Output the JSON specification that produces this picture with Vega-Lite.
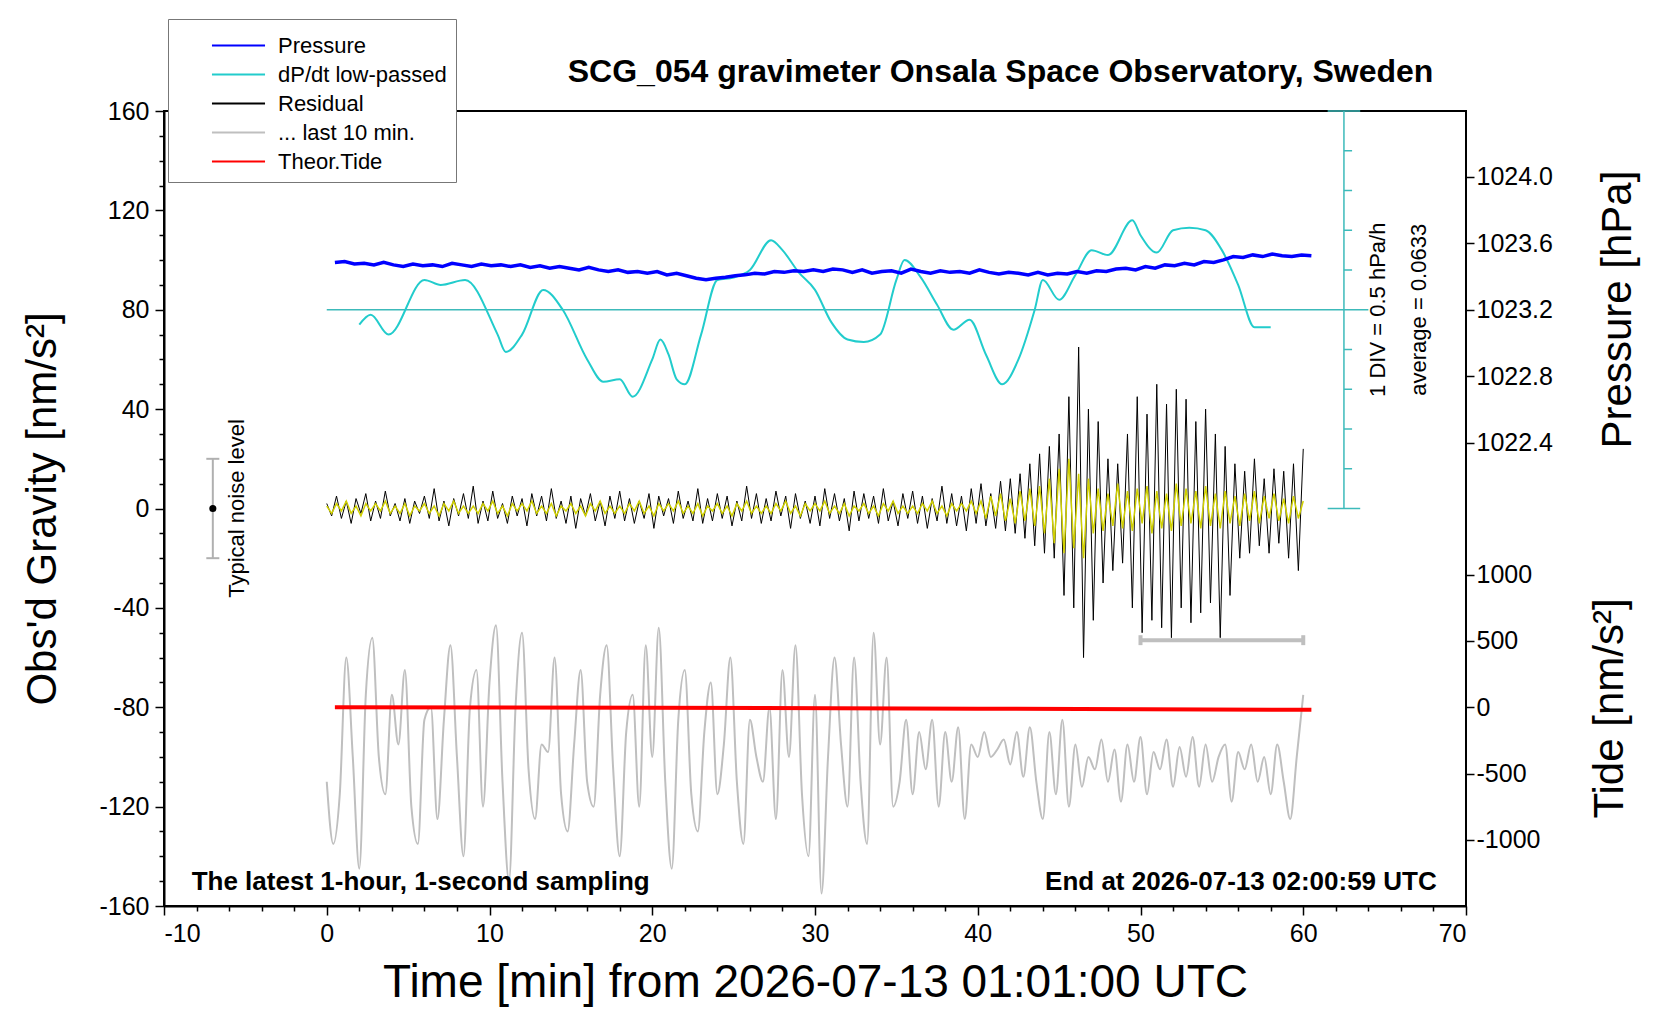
{
  "$schema": "https://vega.github.io/schema/vega-lite/v6.json",
  "width": 1302,
  "height": 795,
  "autosize": "none",
  "padding": {"left": 164, "top": 111, "right": 194, "bottom": 114},
  "background": "white",
  "config": {
    "font": "Liberation Sans",
    "locale": {"number": {"decimal": ".", "thousands": "", "grouping": [3], "currency": ["", ""], "minus": "-"}},
    "view": {"stroke": "black", "strokeWidth": 2},
    "axis": {"domainColor": "black", "domainWidth": 2, "tickColor": "black", "tickWidth": 1.5, "labelFontSize": 25, "labelColor": "black", "grid": false, "titleFontWeight": "normal", "titleColor": "black", "labelFont": "Liberation Sans", "titleFont": "Liberation Sans"},
    "legend": {"orient": "none", "legendX": 4, "legendY": -92, "title": null, "fillColor": "white", "strokeColor": "#777777", "padding": 9, "labelFontSize": 22, "labelFont": "Liberation Sans", "labelColor": "black", "labelLimit": 400, "symbolType": "M-1.6,0H1.6", "symbolSize": 1100, "symbolStrokeWidth": 1.8, "rowPadding": 0, "labelOffset": 22, "symbolOffset": 44}
  },
  "datasets": {
    "res": [
      {"t":0,"r":2,"f":1},{"t":0.3,"r":-3,"f":-2},{"t":0.6,"r":5,"f":2},{"t":0.9,"r":-4,"f":-1},{"t":1.2,"r":3,"f":3},{"t":1.5,"r":-6,"f":-2},{"t":1.8,"r":4,"f":1},{"t":2.1,"r":-2,"f":-3},{"t":2.4,"r":6,"f":2},{"t":2.7,"r":-5,"f":-1},
      {"t":3,"r":3,"f":2},{"t":3.3,"r":-4,"f":-1},{"t":3.6,"r":7,"f":3},{"t":3.9,"r":-3,"f":-2},{"t":4.2,"r":2,"f":1},{"t":4.5,"r":-5,"f":-2},{"t":4.8,"r":4,"f":2},{"t":5.1,"r":-6,"f":-3},{"t":5.4,"r":3,"f":1},{"t":5.7,"r":-2,"f":-1},
      {"t":6,"r":5,"f":2},{"t":6.3,"r":-4,"f":-2},{"t":6.6,"r":8,"f":1},{"t":6.9,"r":-5,"f":-3},{"t":7.2,"r":3,"f":2},{"t":7.5,"r":-7,"f":-1},{"t":7.8,"r":4,"f":3},{"t":8.1,"r":-3,"f":-2},{"t":8.4,"r":6,"f":1},{"t":8.7,"r":-4,"f":-2},
      {"t":9,"r":9,"f":1},{"t":9.3,"r":-6,"f":-2},{"t":9.6,"r":3,"f":2},{"t":9.9,"r":-5,"f":-1},{"t":10.2,"r":7,"f":3},{"t":10.5,"r":-4,"f":-2},{"t":10.8,"r":2,"f":1},{"t":11.1,"r":-6,"f":-3},{"t":11.4,"r":5,"f":2},{"t":11.7,"r":-3,"f":-1},
      {"t":12,"r":4,"f":2},{"t":12.3,"r":-7,"f":-1},{"t":12.6,"r":6,"f":3},{"t":12.9,"r":-3,"f":-2},{"t":13.2,"r":5,"f":1},{"t":13.5,"r":-5,"f":-2},{"t":13.8,"r":8,"f":2},{"t":14.1,"r":-4,"f":-3},{"t":14.4,"r":3,"f":1},{"t":14.7,"r":-6,"f":-1},
      {"t":15,"r":5,"f":2},{"t":15.3,"r":-8,"f":-2},{"t":15.6,"r":4,"f":1},{"t":15.9,"r":-3,"f":-3},{"t":16.2,"r":6,"f":2},{"t":16.5,"r":-5,"f":-1},{"t":16.8,"r":3,"f":3},{"t":17.1,"r":-7,"f":-2},{"t":17.4,"r":5,"f":1},{"t":17.7,"r":-4,"f":-2},
      {"t":18,"r":7,"f":1},{"t":18.3,"r":-5,"f":-2},{"t":18.6,"r":4,"f":2},{"t":18.9,"r":-6,"f":-1},{"t":19.2,"r":3,"f":3},{"t":19.5,"r":-4,"f":-2},{"t":19.8,"r":6,"f":1},{"t":20.1,"r":-8,"f":-3},{"t":20.4,"r":5,"f":2},{"t":20.7,"r":-3,"f":-1},
      {"t":21,"r":4,"f":2},{"t":21.3,"r":-6,"f":-1},{"t":21.6,"r":7,"f":3},{"t":21.9,"r":-4,"f":-2},{"t":22.2,"r":3,"f":1},{"t":22.5,"r":-5,"f":-2},{"t":22.8,"r":8,"f":2},{"t":23.1,"r":-6,"f":-3},{"t":23.4,"r":4,"f":1},{"t":23.7,"r":-5,"f":-1},
      {"t":24,"r":6,"f":2},{"t":24.3,"r":-4,"f":-2},{"t":24.6,"r":5,"f":1},{"t":24.9,"r":-7,"f":-3},{"t":25.2,"r":3,"f":2},{"t":25.5,"r":-5,"f":-1},{"t":25.8,"r":9,"f":3},{"t":26.1,"r":-4,"f":-2},{"t":26.4,"r":6,"f":1},{"t":26.7,"r":-6,"f":-2},
      {"t":27,"r":4,"f":1},{"t":27.3,"r":-5,"f":-2},{"t":27.6,"r":7,"f":2},{"t":27.9,"r":-3,"f":-1},{"t":28.2,"r":5,"f":3},{"t":28.5,"r":-8,"f":-2},{"t":28.8,"r":6,"f":1},{"t":29.1,"r":-4,"f":-3},{"t":29.4,"r":3,"f":2},{"t":29.7,"r":-6,"f":-1},
      {"t":30,"r":5,"f":2},{"t":30.3,"r":-7,"f":-1},{"t":30.6,"r":8,"f":3},{"t":30.9,"r":-4,"f":-2},{"t":31.2,"r":6,"f":1},{"t":31.5,"r":-5,"f":-2},{"t":31.8,"r":4,"f":2},{"t":32.1,"r":-9,"f":-3},{"t":32.4,"r":7,"f":1},{"t":32.7,"r":-5,"f":-1},
      {"t":33,"r":6,"f":2},{"t":33.3,"r":-4,"f":-2},{"t":33.6,"r":5,"f":1},{"t":33.9,"r":-6,"f":-3},{"t":34.2,"r":8,"f":2},{"t":34.5,"r":-5,"f":-1},{"t":34.8,"r":3,"f":3},{"t":35.1,"r":-7,"f":-2},{"t":35.4,"r":6,"f":1},{"t":35.7,"r":-4,"f":-2},
      {"t":36,"r":7,"f":1},{"t":36.3,"r":-6,"f":-2},{"t":36.6,"r":5,"f":2},{"t":36.9,"r":-8,"f":-1},{"t":37.2,"r":4,"f":3},{"t":37.5,"r":-5,"f":-2},{"t":37.8,"r":9,"f":1},{"t":38.1,"r":-6,"f":-3},{"t":38.4,"r":6,"f":2},{"t":38.7,"r":-7,"f":-1},
      {"t":39,"r":5,"f":2},{"t":39.3,"r":-9,"f":-1},{"t":39.6,"r":8,"f":3},{"t":39.9,"r":-6,"f":-2},{"t":40.2,"r":10,"f":3},{"t":40.5,"r":-7,"f":-4},{"t":40.8,"r":6,"f":5},{"t":41.1,"r":-8,"f":-3},{"t":41.4,"r":11,"f":6},{"t":41.7,"r":-9,"f":-5},
      {"t":42,"r":12,"f":4},{"t":42.3,"r":-10,"f":-6},{"t":42.6,"r":14,"f":7},{"t":42.9,"r":-12,"f":-5},{"t":43.2,"r":18,"f":8},{"t":43.5,"r":-15,"f":-7},{"t":43.8,"r":22,"f":9},{"t":44.1,"r":-18,"f":-10},{"t":44.4,"r":25,"f":12},{"t":44.7,"r":-20,"f":-14},
      {"t":45,"r":30,"f":16},{"t":45.3,"r":-35,"f":-18},{"t":45.6,"r":45,"f":20},{"t":45.9,"r":-40,"f":-16},{"t":46.2,"r":65,"f":14},{"t":46.5,"r":-60,"f":-20},{"t":46.8,"r":40,"f":12},{"t":47.1,"r":-45,"f":-10},{"t":47.4,"r":35,"f":8},{"t":47.7,"r":-30,"f":-9},
      {"t":48,"r":20,"f":6},{"t":48.3,"r":-25,"f":-7},{"t":48.6,"r":18,"f":10},{"t":48.9,"r":-22,"f":-8},{"t":49.2,"r":30,"f":7},{"t":49.5,"r":-40,"f":-9},{"t":49.8,"r":45,"f":8},{"t":50.1,"r":-50,"f":-6},{"t":50.4,"r":38,"f":9},{"t":50.7,"r":-45,"f":-10},
      {"t":51,"r":50,"f":7},{"t":51.3,"r":-48,"f":-8},{"t":51.6,"r":42,"f":6},{"t":51.9,"r":-52,"f":-9},{"t":52.2,"r":48,"f":10},{"t":52.5,"r":-40,"f":-7},{"t":52.8,"r":44,"f":8},{"t":53.1,"r":-46,"f":-6},{"t":53.4,"r":35,"f":7},{"t":53.7,"r":-42,"f":-8},
      {"t":54,"r":40,"f":9},{"t":54.3,"r":-38,"f":-7},{"t":54.6,"r":30,"f":6},{"t":54.9,"r":-52,"f":-8},{"t":55.2,"r":25,"f":7},{"t":55.5,"r":-35,"f":-6},{"t":55.8,"r":18,"f":5},{"t":56.1,"r":-20,"f":-7},{"t":56.4,"r":15,"f":6},{"t":56.7,"r":-18,"f":-5},
      {"t":57,"r":20,"f":7},{"t":57.3,"r":-15,"f":-6},{"t":57.6,"r":12,"f":5},{"t":57.9,"r":-18,"f":-4},{"t":58.2,"r":16,"f":6},{"t":58.5,"r":-14,"f":-5},{"t":58.8,"r":15,"f":4},{"t":59.1,"r":-20,"f":-6},{"t":59.4,"r":18,"f":5},{"t":59.7,"r":-25,"f":-4},
      {"t":60,"r":24,"f":3}
    ],
    "last10": [
      {"t":0,"g":-110},{"t":0.4,"g":-135},{"t":0.8,"g":-115},{"t":1.2,"g":-60},{"t":1.6,"g":-100},{"t":2,"g":-145},{"t":2.4,"g":-75},{"t":2.8,"g":-52},{"t":3.2,"g":-100},{"t":3.6,"g":-115},
      {"t":4,"g":-75},{"t":4.4,"g":-95},{"t":4.8,"g":-65},{"t":5.2,"g":-120},{"t":5.6,"g":-135},{"t":6,"g":-85},{"t":6.4,"g":-80},{"t":6.8,"g":-125},{"t":7.2,"g":-85},{"t":7.6,"g":-55},
      {"t":8,"g":-100},{"t":8.4,"g":-140},{"t":8.8,"g":-80},{"t":9.2,"g":-65},{"t":9.6,"g":-120},{"t":10,"g":-70},{"t":10.4,"g":-47},{"t":10.8,"g":-110},{"t":11.2,"g":-150},{"t":11.6,"g":-80},
      {"t":12,"g":-50},{"t":12.4,"g":-105},{"t":12.8,"g":-125},{"t":13.2,"g":-95},{"t":13.6,"g":-98},{"t":14,"g":-60},{"t":14.4,"g":-115},{"t":14.8,"g":-130},{"t":15.2,"g":-95},{"t":15.6,"g":-65},
      {"t":16,"g":-110},{"t":16.4,"g":-120},{"t":16.8,"g":-75},{"t":17.2,"g":-55},{"t":17.6,"g":-105},{"t":18,"g":-140},{"t":18.4,"g":-90},{"t":18.8,"g":-75},{"t":19.2,"g":-120},{"t":19.6,"g":-55},
      {"t":20,"g":-100},{"t":20.4,"g":-48},{"t":20.8,"g":-110},{"t":21.2,"g":-145},{"t":21.6,"g":-85},{"t":22,"g":-65},{"t":22.4,"g":-115},{"t":22.8,"g":-130},{"t":23.2,"g":-90},{"t":23.6,"g":-70},
      {"t":24,"g":-115},{"t":24.4,"g":-95},{"t":24.8,"g":-60},{"t":25.2,"g":-110},{"t":25.6,"g":-135},{"t":26,"g":-85},{"t":26.4,"g":-100},{"t":26.8,"g":-110},{"t":27.2,"g":-80},{"t":27.6,"g":-125},
      {"t":28,"g":-65},{"t":28.4,"g":-100},{"t":28.8,"g":-55},{"t":29.2,"g":-115},{"t":29.6,"g":-140},{"t":30,"g":-75},{"t":30.4,"g":-155},{"t":30.8,"g":-100},{"t":31.2,"g":-60},{"t":31.6,"g":-95},
      {"t":32,"g":-120},{"t":32.4,"g":-60},{"t":32.8,"g":-110},{"t":33.2,"g":-135},{"t":33.6,"g":-50},{"t":34,"g":-95},{"t":34.4,"g":-60},{"t":34.8,"g":-120},{"t":35.2,"g":-110},{"t":35.6,"g":-85},
      {"t":36,"g":-115},{"t":36.4,"g":-90},{"t":36.8,"g":-105},{"t":37.2,"g":-85},{"t":37.6,"g":-120},{"t":38,"g":-90},{"t":38.4,"g":-110},{"t":38.8,"g":-88},{"t":39.2,"g":-125},{"t":39.6,"g":-95},
      {"t":40,"g":-100},{"t":40.4,"g":-90},{"t":40.8,"g":-100},{"t":41.2,"g":-97},{"t":41.6,"g":-93},{"t":42,"g":-103},{"t":42.4,"g":-90},{"t":42.8,"g":-108},{"t":43.2,"g":-88},{"t":43.6,"g":-110},
      {"t":44,"g":-125},{"t":44.4,"g":-90},{"t":44.8,"g":-115},{"t":45.2,"g":-85},{"t":45.6,"g":-120},{"t":46,"g":-95},{"t":46.4,"g":-112},{"t":46.8,"g":-100},{"t":47.2,"g":-105},{"t":47.6,"g":-93},
      {"t":48,"g":-110},{"t":48.4,"g":-97},{"t":48.8,"g":-118},{"t":49.2,"g":-95},{"t":49.6,"g":-110},{"t":50,"g":-92},{"t":50.4,"g":-115},{"t":50.8,"g":-98},{"t":51.2,"g":-105},{"t":51.6,"g":-93},
      {"t":52,"g":-112},{"t":52.4,"g":-96},{"t":52.8,"g":-108},{"t":53.2,"g":-92},{"t":53.6,"g":-112},{"t":54,"g":-95},{"t":54.4,"g":-110},{"t":54.8,"g":-100},{"t":55.2,"g":-95},{"t":55.6,"g":-118},
      {"t":56,"g":-98},{"t":56.4,"g":-105},{"t":56.8,"g":-95},{"t":57.2,"g":-110},{"t":57.6,"g":-100},{"t":58,"g":-115},{"t":58.4,"g":-95},{"t":58.8,"g":-110},{"t":59.2,"g":-125},{"t":59.6,"g":-100},
      {"t":60,"g":-75}
    ],
    "dpdt": [
      {"t":2,"g":74},{"t":2.7,"g":78},{"t":3.8,"g":70},{"t":6,"g":92},{"t":7,"g":90},{"t":8.5,"g":92},{"t":10.5,"g":70},{"t":11,"g":63},{"t":12,"g":70},{"t":13.3,"g":88},
      {"t":14.5,"g":80},{"t":16,"g":60},{"t":17,"g":51},{"t":18,"g":52},{"t":18.8,"g":45},{"t":20,"g":60},{"t":20.5,"g":68},{"t":21,"g":62},{"t":21.5,"g":52},{"t":22,"g":50},
      {"t":23,"g":70},{"t":24,"g":92},{"t":25,"g":93},{"t":26,"g":96},{"t":27.3,"g":108},{"t":28,"g":104},{"t":29,"g":95},{"t":30,"g":88},{"t":31,"g":75},{"t":32,"g":68},
      {"t":33,"g":67},{"t":34,"g":70},{"t":35,"g":92},{"t":35.5,"g":100},{"t":36.5,"g":93},{"t":37.5,"g":82},{"t":38.5,"g":72},{"t":39.5,"g":76},{"t":40.5,"g":62},{"t":41.5,"g":50},
      {"t":42.5,"g":60},{"t":43.5,"g":80},{"t":44,"g":92},{"t":45,"g":84},{"t":46,"g":94},{"t":47,"g":104},{"t":48,"g":102},{"t":49.5,"g":116},{"t":50,"g":110},{"t":51,"g":103},
      {"t":52,"g":112},{"t":53,"g":113},{"t":54,"g":112},{"t":55,"g":104},{"t":56,"g":90},{"t":57,"g":73},{"t":58,"g":73}
    ],
    "pressure": [
      {"t":0.5,"p":1023.485},{"t":1.1,"p":1023.49},{"t":1.7,"p":1023.475},{"t":2.3,"p":1023.48},{"t":2.9,"p":1023.47},{"t":3.5,"p":1023.485},{"t":4.1,"p":1023.47},{"t":4.7,"p":1023.46},{"t":5.3,"p":1023.475},{"t":5.9,"p":1023.465},
      {"t":6.5,"p":1023.47},{"t":7.1,"p":1023.46},{"t":7.7,"p":1023.48},{"t":8.3,"p":1023.47},{"t":8.9,"p":1023.46},{"t":9.5,"p":1023.475},{"t":10.1,"p":1023.465},{"t":10.7,"p":1023.47},{"t":11.3,"p":1023.46},{"t":11.9,"p":1023.47},
      {"t":12.5,"p":1023.455},{"t":13.1,"p":1023.465},{"t":13.7,"p":1023.45},{"t":14.3,"p":1023.46},{"t":14.9,"p":1023.45},{"t":15.5,"p":1023.44},{"t":16.1,"p":1023.455},{"t":16.7,"p":1023.44},{"t":17.3,"p":1023.43},{"t":17.9,"p":1023.44},
      {"t":18.5,"p":1023.425},{"t":19.1,"p":1023.43},{"t":19.7,"p":1023.42},{"t":20.3,"p":1023.43},{"t":20.9,"p":1023.41},{"t":21.5,"p":1023.42},{"t":22.1,"p":1023.405},{"t":22.7,"p":1023.39},{"t":23.3,"p":1023.38},{"t":23.9,"p":1023.39},
      {"t":24.5,"p":1023.395},{"t":25.1,"p":1023.405},{"t":25.7,"p":1023.41},{"t":26.3,"p":1023.42},{"t":26.9,"p":1023.415},{"t":27.5,"p":1023.43},{"t":28.1,"p":1023.425},{"t":28.7,"p":1023.435},{"t":29.3,"p":1023.43},{"t":29.9,"p":1023.44},
      {"t":30.5,"p":1023.43},{"t":31.1,"p":1023.445},{"t":31.7,"p":1023.44},{"t":32.3,"p":1023.425},{"t":32.9,"p":1023.44},{"t":33.5,"p":1023.42},{"t":34.1,"p":1023.43},{"t":34.7,"p":1023.435},{"t":35.3,"p":1023.42},{"t":35.9,"p":1023.445},
      {"t":36.5,"p":1023.43},{"t":37.1,"p":1023.42},{"t":37.7,"p":1023.435},{"t":38.3,"p":1023.425},{"t":38.9,"p":1023.43},{"t":39.5,"p":1023.42},{"t":40.1,"p":1023.44},{"t":40.7,"p":1023.425},{"t":41.3,"p":1023.415},{"t":41.9,"p":1023.425},
      {"t":42.5,"p":1023.42},{"t":43.1,"p":1023.41},{"t":43.7,"p":1023.425},{"t":44.3,"p":1023.41},{"t":44.9,"p":1023.42},{"t":45.5,"p":1023.415},{"t":46.1,"p":1023.43},{"t":46.7,"p":1023.42},{"t":47.3,"p":1023.435},{"t":47.9,"p":1023.43},
      {"t":48.5,"p":1023.445},{"t":49.1,"p":1023.45},{"t":49.7,"p":1023.44},{"t":50.3,"p":1023.46},{"t":50.9,"p":1023.45},{"t":51.5,"p":1023.47},{"t":52.1,"p":1023.465},{"t":52.7,"p":1023.48},{"t":53.3,"p":1023.47},{"t":53.9,"p":1023.49},
      {"t":54.5,"p":1023.485},{"t":55.1,"p":1023.5},{"t":55.7,"p":1023.52},{"t":56.3,"p":1023.515},{"t":56.9,"p":1023.53},{"t":57.5,"p":1023.52},{"t":58.1,"p":1023.535},{"t":58.7,"p":1023.525},{"t":59.3,"p":1023.52},{"t":59.9,"p":1023.53},
      {"t":60.5,"p":1023.525}
    ],
    "tide": [{"t":0.5,"v":0},{"t":20,"v":-4},{"t":40,"v":-11},{"t":60.5,"v":-19}],
    "cyanaxis": [
      {"a":62.5,"b":62.5,"g":0,"g2":160},
      {"a":61.5,"b":63.5,"g":0,"g2":0},{"a":62.5,"b":63,"g":16,"g2":16},{"a":62.5,"b":63,"g":32,"g2":32},{"a":62.5,"b":63,"g":48,"g2":48},{"a":62.5,"b":63,"g":64,"g2":64},
      {"a":62.5,"b":63,"g":96,"g2":96},{"a":62.5,"b":63,"g":112,"g2":112},{"a":62.5,"b":63,"g":128,"g2":128},{"a":62.5,"b":63,"g":144,"g2":144},{"a":61.5,"b":63.5,"g":160,"g2":160},
      {"a":0,"b":64,"g":80,"g2":80}
    ],
    "noisebar": [
      {"a":-7,"b":-7,"g":-20,"g2":20},{"a":-7.4,"b":-6.6,"g":20,"g2":20},{"a":-7.4,"b":-6.6,"g":-20,"g2":-20}
    ],
    "span": [
      {"a":50,"b":60,"g":-53,"g2":-53},{"a":50,"b":50,"g":-51,"g2":-55},{"a":60,"b":60,"g":-51,"g2":-55}
    ]
  },
  "layer": [
    {
      "data": {"name": "cyanaxis"},
      "mark": {"type": "rule", "color": "#3cbaba", "strokeWidth": 1.5},
      "encoding": {
        "x": {"field": "a", "type": "quantitative", "scale": {"domain": [-10, 70]}, "axis": null},
        "x2": {"field": "b"},
        "y": {"field": "g", "type": "quantitative", "scale": {"domain": [-160, 160]}, "axis": null},
        "y2": {"field": "g2"}
      }
    },
    {
      "data": {"name": "dpdt"},
      "mark": {"type": "line", "strokeWidth": 2, "interpolate": "monotone"},
      "encoding": {
        "x": {"field": "t", "type": "quantitative", "scale": {"domain": [-10, 70]}, "axis": null},
        "y": {"field": "g", "type": "quantitative", "scale": {"domain": [-160, 160]}, "axis": null},
        "color": {"datum": "dP/dt low-passed", "type": "nominal", "scale": {"domain": ["Pressure", "dP/dt low-passed", "Residual", "... last 10 min.", "Theor.Tide"], "range": ["#0000ff", "#22cccc", "#000000", "#bfbfbf", "#ff0000"]}}
      }
    },
    {
      "data": {"name": "pressure"},
      "mark": {"type": "line", "strokeWidth": 3.5},
      "encoding": {
        "x": {"field": "t", "type": "quantitative", "scale": {"domain": [-10, 70]}, "axis": null},
        "y": {"field": "p", "type": "quantitative", "scale": {"domain": [1019.612, 1024.396]}, "axis": {"orient": "right", "values": [1022.4, 1022.8, 1023.2, 1023.6, 1024.0], "format": ".1f", "tickSize": 8, "domain": false, "title": "Pressure [hPa]", "titleFontSize": 42, "titleAngle": 270, "titleX": 151, "titleY": 198, "titleBaseline": "middle", "titleAlign": "center"}},
        "color": {"datum": "Pressure", "type": "nominal"}
      }
    },
    {
      "data": {"name": "last10"},
      "mark": {"type": "line", "strokeWidth": 2, "interpolate": "monotone"},
      "encoding": {
        "x": {"field": "t", "type": "quantitative", "scale": {"domain": [-10, 70]}, "axis": null},
        "y": {"field": "g", "type": "quantitative", "scale": {"domain": [-160, 160]}, "axis": null},
        "color": {"datum": "... last 10 min.", "type": "nominal"}
      }
    },
    {
      "data": {"name": "span"},
      "mark": {"type": "rule", "color": "#bfbfbf", "strokeWidth": 4},
      "encoding": {
        "x": {"field": "a", "type": "quantitative", "scale": {"domain": [-10, 70]}, "axis": null},
        "x2": {"field": "b"},
        "y": {"field": "g", "type": "quantitative", "scale": {"domain": [-160, 160]}, "axis": null},
        "y2": {"field": "g2"}
      }
    },
    {
      "data": {"name": "tide"},
      "mark": {"type": "line", "strokeWidth": 4},
      "encoding": {
        "x": {"field": "t", "type": "quantitative", "scale": {"domain": [-10, 70]}, "axis": null},
        "y": {"field": "v", "type": "quantitative", "scale": {"domain": [-1498, 4494]}, "axis": {"orient": "right", "values": [-1500, -1000, -500, 0, 500, 1000], "format": "d", "tickSize": 8, "domain": false, "title": "Tide [nm/s²]", "titleFontSize": 42, "titleAngle": 270, "titleX": 143, "titleY": 597, "titleBaseline": "middle", "titleAlign": "center"}},
        "color": {"datum": "Theor.Tide", "type": "nominal"}
      }
    },
    {
      "data": {"name": "res"},
      "mark": {"type": "line", "strokeWidth": 1},
      "encoding": {
        "x": {"field": "t", "type": "quantitative", "scale": {"domain": [-10, 70]}, "axis": null},
        "y": {"field": "r", "type": "quantitative", "scale": {"domain": [-160, 160]}, "axis": null},
        "color": {"datum": "Residual", "type": "nominal"}
      }
    },
    {
      "data": {"name": "res"},
      "mark": {"type": "line", "strokeWidth": 1.5, "color": "#d0d000"},
      "encoding": {
        "x": {"field": "t", "type": "quantitative", "scale": {"domain": [-10, 70]}, "axis": null},
        "y": {"field": "f", "type": "quantitative", "scale": {"domain": [-160, 160]}, "axis": null}
      }
    },
    {
      "data": {"name": "noisebar"},
      "mark": {"type": "rule", "color": "#b0b0b0", "strokeWidth": 2},
      "encoding": {
        "x": {"field": "a", "type": "quantitative", "scale": {"domain": [-10, 70]}, "axis": null},
        "x2": {"field": "b"},
        "y": {"field": "g", "type": "quantitative", "scale": {"domain": [-160, 160]}, "axis": null},
        "y2": {"field": "g2"}
      }
    },
    {
      "data": {"values": [{"t": -7, "g": 0}]},
      "mark": {"type": "point", "filled": true, "color": "black", "size": 50, "opacity": 1},
      "encoding": {
        "x": {"field": "t", "type": "quantitative", "scale": {"domain": [-10, 70]}, "axis": null},
        "y": {"field": "g", "type": "quantitative", "scale": {"domain": [-160, 160]}, "axis": null}
      }
    },
    {
      "data": {"values": [{"t": 41.4, "g": 175.8, "s": "SCG_054 gravimeter Onsala Space Observatory, Sweden"}]},
      "mark": {"type": "text", "fontSize": 32, "fontWeight": "bold", "align": "center", "baseline": "middle", "color": "black"},
      "encoding": {
        "x": {"field": "t", "type": "quantitative", "scale": {"domain": [-10, 70]}, "axis": null},
        "y": {"field": "g", "type": "quantitative", "scale": {"domain": [-160, 160]}, "axis": null},
        "text": {"field": "s"}
      }
    },
    {
      "data": {"values": [{"t": -5.5, "g": 0, "s": "Typical noise level"}, {"t": 64.6, "g": 80, "s": "1 DIV = 0.5 hPa/h"}, {"t": 67.1, "g": 80, "s": "average = 0.0633"}]},
      "mark": {"type": "text", "angle": 270, "fontSize": 22, "align": "center", "baseline": "middle", "color": "black"},
      "encoding": {
        "x": {"field": "t", "type": "quantitative", "scale": {"domain": [-10, 70]}, "axis": null},
        "y": {"field": "g", "type": "quantitative", "scale": {"domain": [-160, 160]}, "axis": null},
        "text": {"field": "s"}
      }
    },
    {
      "data": {"values": [{"t": -8.3, "g": -150.5, "s": "The latest 1-hour, 1-second sampling"}]},
      "mark": {"type": "text", "fontSize": 26, "fontWeight": "bold", "align": "left", "baseline": "middle", "color": "black"},
      "encoding": {
        "x": {"field": "t", "type": "quantitative", "scale": {"domain": [-10, 70]}, "axis": {"orient": "bottom", "values": [-10, 0, 10, 20, 30, 40, 50, 60, 70], "tickSize": 9, "labelPadding": 6, "title": "Time [min] from 2026-07-13 01:01:00 UTC", "titleFontSize": 46, "titlePadding": 14}},
        "y": {"field": "g", "type": "quantitative", "scale": {"domain": [-160, 160]}, "axis": {"orient": "left", "values": [-160, -120, -80, -40, 0, 40, 80, 120, 160], "tickSize": 9, "labelPadding": 6, "title": "Obs'd Gravity [nm/s²]", "titleFontSize": 42, "titlePadding": 34}},
        "text": {"field": "s"}
      }
    },
    {
      "data": {"values": [{"t": 68.2, "g": -150.5, "s": "End at 2026-07-13 02:00:59 UTC"}]},
      "mark": {"type": "text", "fontSize": 26, "fontWeight": "bold", "align": "right", "baseline": "middle", "color": "black"},
      "encoding": {
        "x": {"field": "t", "type": "quantitative", "scale": {"domain": [-10, 70]}, "axis": {"orient": "bottom", "values": [-8, -6, -4, -2, 2, 4, 6, 8, 12, 14, 16, 18, 22, 24, 26, 28, 32, 34, 36, 38, 42, 44, 46, 48, 52, 54, 56, 58, 62, 64, 66, 68], "tickSize": 5, "labels": false, "domain": false, "title": null}},
        "y": {"field": "g", "type": "quantitative", "scale": {"domain": [-160, 160]}, "axis": {"orient": "left", "values": [-150, -140, -130, -110, -100, -90, -70, -60, -50, -30, -20, -10, 10, 20, 30, 50, 60, 70, 90, 100, 110, 130, 140, 150], "tickSize": 5, "labels": false, "domain": false, "title": null}},
        "text": {"field": "s"}
      }
    }
  ],
  "resolve": {"scale": {"y": "independent", "color": "shared"}, "axis": {"x": "independent", "y": "independent"}}
}
